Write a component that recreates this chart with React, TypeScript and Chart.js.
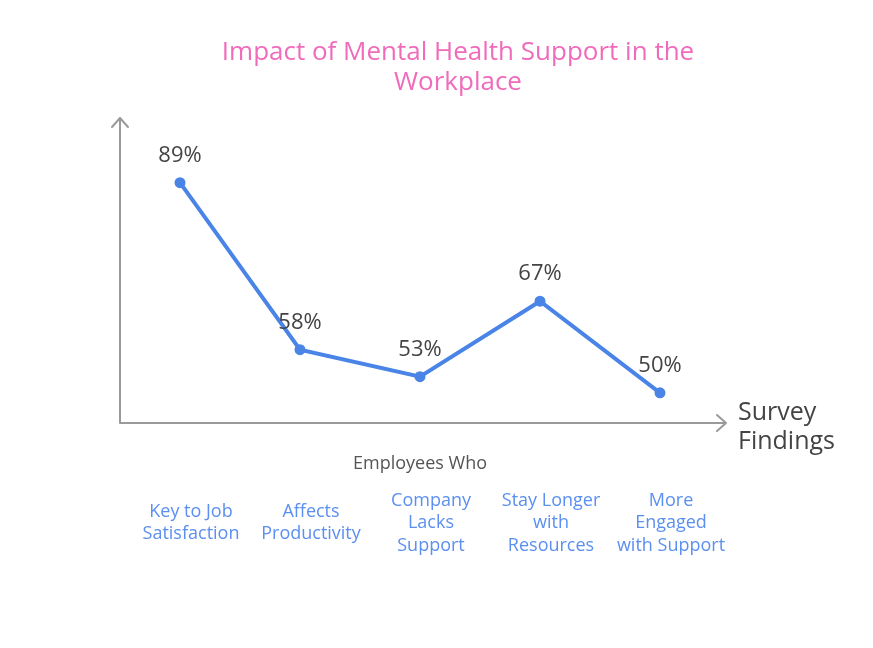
import React, { useEffect, useRef } from "react";
import { Chart, registerables } from "chart.js";

Chart.register(...registerables);

const TITLE_LINES = ["Impact of Mental Health Support in the", "Workplace"];
const CATEGORIES: string[][] = [
  ["Key to Job", "Satisfaction"],
  ["Affects", "Productivity"],
  ["Company", "Lacks", "Support"],
  ["Stay Longer", "with", "Resources"],
  ["More", "Engaged", "with Support"],
];
const VALUES = [89, 58, 53, 67, 50];
const X_TITLE = "Employees Who";
const Y_TITLE_LINES = ["Survey", "Findings"];
const Y_MIN = 44.4;
const Y_MAX = 101;

const FONT = "'Open Sans', 'Noto Sans', sans-serif";

const decorPlugin = {
  id: "decor",
  afterDraw(chart: any) {
    const { ctx, chartArea } = chart;
    const xs = chart.scales.x;
    const ys = chart.scales.y;
    ctx.save();
    // axes
    ctx.strokeStyle = "#9a9a9a";
    ctx.lineWidth = 2;
    ctx.lineCap = "round";
    ctx.lineJoin = "round";
    const left = chartArea.left;
    const bottom = chartArea.bottom;
    const top = chartArea.top;
    const right = chartArea.right + 6;
    ctx.beginPath();
    ctx.moveTo(left, bottom);
    ctx.lineTo(left, top);
    ctx.moveTo(left - 8, top + 9);
    ctx.lineTo(left, top);
    ctx.lineTo(left + 8, top + 9);
    ctx.moveTo(left, bottom);
    ctx.lineTo(right, bottom);
    ctx.moveTo(right - 9, bottom - 8);
    ctx.lineTo(right, bottom);
    ctx.lineTo(right - 9, bottom + 8);
    ctx.stroke();

    // title
    ctx.fillStyle = "#f06bbb";
    ctx.font = `26px ${FONT}`;
    ctx.textAlign = "center";
    ctx.textBaseline = "middle";
    TITLE_LINES.forEach((l, i) => ctx.fillText(l, 458, 53 + i * 30));

    // y title (right of x axis)
    ctx.fillStyle = "#444";
    ctx.font = `25px ${FONT}`;
    ctx.textAlign = "left";
    Y_TITLE_LINES.forEach((l, i) => ctx.fillText(l, 738, 413 + i * 29));

    // x title
    ctx.fillStyle = "#555";
    ctx.font = `18px ${FONT}`;
    ctx.textAlign = "center";
    ctx.fillText(X_TITLE, (chartArea.left + chartArea.right) / 2, 464);

    // category labels
    ctx.fillStyle = "#5b8ff0";
    ctx.font = `18px ${FONT}`;
    const lh = 22.5;
    CATEGORIES.forEach((lines, i) => {
      const x = xs.getPixelForValue(i) + 11;
      const start = 523 - ((lines.length - 1) * lh) / 2;
      lines.forEach((l, j) => ctx.fillText(l, x, start + j * lh));
    });

    // data labels
    ctx.fillStyle = "#444";
    ctx.font = `22px ${FONT}`;
    VALUES.forEach((v, i) => {
      ctx.fillText(`${v}%`, xs.getPixelForValue(i), ys.getPixelForValue(v) - 27);
    });
    ctx.restore();
  },
};

export default function App() {
  const ref = useRef<HTMLCanvasElement>(null);
  useEffect(() => {
    if (!ref.current) return;
    const chart = new Chart(ref.current, {
      type: "line",
      data: {
        labels: CATEGORIES.map((c) => c.join(" ")),
        datasets: [
          {
            data: VALUES,
            borderColor: "#4a84e6",
            backgroundColor: "#4a84e6",
            borderWidth: 4,
            pointRadius: 3.5,
            pointHoverRadius: 3.5,
            tension: 0,
          },
        ],
      },
      options: {
        responsive: false,
        animation: false,
        layout: { padding: { left: 120, top: 118, right: 153, bottom: 225 } },
        plugins: { legend: { display: false }, tooltip: { enabled: false }, title: { display: false } },
        scales: {
          x: { type: "category", offset: true, display: false, grid: { display: false } },
          y: { min: Y_MIN, max: Y_MAX, display: false, grid: { display: false } },
        },
      },
      plugins: [decorPlugin],
    });
    return () => chart.destroy();
  }, []);
  return (
    <div style={{ position: "fixed", left: 0, top: 0, width: 873, height: 648, background: "#fff" }}>
      <canvas ref={ref} width={873} height={648} />
    </div>
  );
}
